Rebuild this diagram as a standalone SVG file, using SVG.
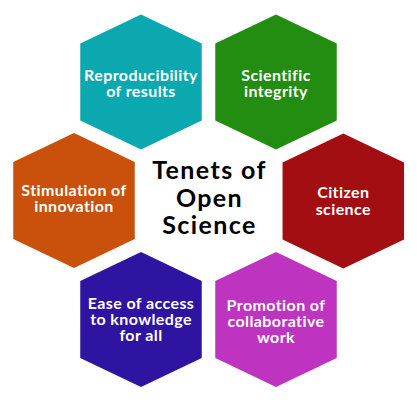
<svg xmlns="http://www.w3.org/2000/svg" width="417" height="406" viewBox="0 0 417 406">
  <defs>
    <!-- one hexagon cell, pointy top, centred on the origin -->
    <polygon id="hex" points="0,-67.5 60.75,-38.5 60.75,38.5 0,67.5 -60.75,38.5 -60.75,-38.5"/>
  </defs>
  <style>
    .lbl { font-family: Lato, "Open Sans", sans-serif; font-weight: 700; font-size: 16px; fill: #ffffff; text-anchor: middle; letter-spacing: 0.4px; }
    .title { font-family: Lato, "Open Sans", sans-serif; font-weight: 700; font-size: 25px; fill: #000000; text-anchor: middle; letter-spacing: 1.4px; }
  </style>
  <rect width="417" height="406" fill="#ffffff"/>

  <g id="node-reproducibility">
    <use href="#hex" x="141" y="82" fill="#0CA8B0"/>
    <text class="lbl" x="141" y="80.7">Reproducibility</text>
    <text class="lbl" x="141" y="96.7">of results</text>
  </g>

  <g id="node-integrity">
    <use href="#hex" x="276" y="82" fill="#238D12"/>
    <text class="lbl" x="276" y="80.5">Scientific</text>
    <text class="lbl" x="276" y="96.5">integrity</text>
  </g>

  <g id="node-innovation">
    <use href="#hex" x="74" y="200.5" fill="#C9510B"/>
    <text class="lbl" x="74" y="195.7">Stimulation of</text>
    <text class="lbl" x="74" y="211.5">innovation</text>
  </g>

  <g id="node-citizen">
    <use href="#hex" x="343.3" y="201" fill="#A30E12"/>
    <text class="lbl" x="343.3" y="198">Citizen</text>
    <text class="lbl" x="343.3" y="214.5">science</text>
  </g>

  <g id="node-access">
    <use href="#hex" x="141" y="319.5" fill="#2E14A1"/>
    <text class="lbl" x="141" y="309.3">Ease of access</text>
    <text class="lbl" x="141" y="325.2">to knowledge</text>
    <text class="lbl" x="141" y="341">for all</text>
  </g>

  <g id="node-collaboration">
    <use href="#hex" x="276" y="319.5" fill="#BE33C0"/>
    <text class="lbl" x="276" y="311">Promotion of</text>
    <text class="lbl" x="276" y="326.8">collaborative</text>
    <text class="lbl" x="276" y="342.6">work</text>
  </g>

  <g id="node-title">
    <text class="title" x="209.5" y="179.3">Tenets of</text>
    <text class="title" x="209.5" y="206.7">Open</text>
    <text class="title" x="209.5" y="234">Science</text>
  </g>

  <g id="connectors"/>
</svg>
